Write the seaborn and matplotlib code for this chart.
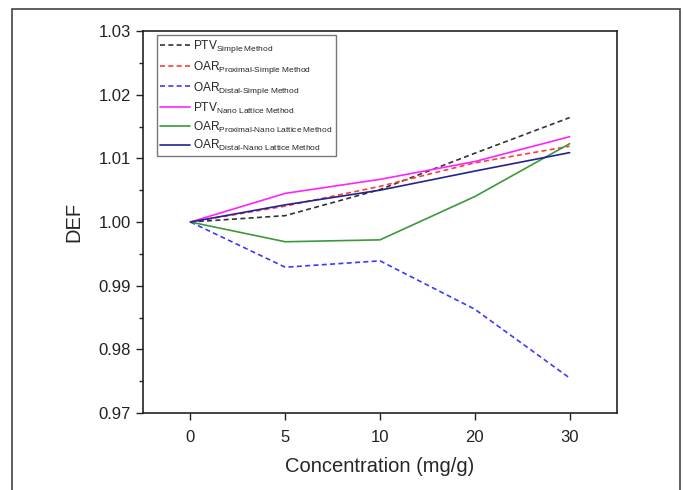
import matplotlib
matplotlib.use("Agg")
import matplotlib.pyplot as plt
import matplotlib.patches as mpatches
from matplotlib.ticker import FormatStrFormatter, MultipleLocator
import pandas as pd
import seaborn as sns

# Concentration levels (shown as evenly spaced categories)
concentrations = ["0", "5", "10", "20", "30"]

ptv_simple = [1.0000, 1.0010, 1.0051, 1.0108, 1.0164]
oar_prox_simple = [1.0000, 1.0025, 1.0056, 1.0093, 1.0119]
oar_dist_simple = [1.0000, 0.9929, 0.9939, 0.9863, 0.9755]
ptv_nano = [1.0000, 1.0045, 1.0067, 1.0095, 1.0134]
oar_prox_nano = [1.0000, 0.9969, 0.9972, 1.0040, 1.0123]
oar_dist_nano = [1.0000, 1.0027, 1.0050, 1.0080, 1.0109]

series_names = [
    r"PTV$_{\mathrm{Simple\ Method}}$",
    r"OAR$_{\mathrm{Proximal\text{-}Simple\ Method}}$",
    r"OAR$_{\mathrm{Distal\text{-}Simple\ Method}}$",
    r"PTV$_{\mathrm{Nano\ Lattice\ Method}}$",
    r"OAR$_{\mathrm{Proximal\text{-}Nano\ Lattice\ Method}}$",
    r"OAR$_{\mathrm{Distal\text{-}Nano\ Lattice\ Method}}$",
]
series_values = [ptv_simple, oar_prox_simple, oar_dist_simple,
                 ptv_nano, oar_prox_nano, oar_dist_nano]

colors = ["#333333", "#ff3b3b", "#3a3aff", "#ff22ff", "#3a9a3a", "#23238f"]
dash_styles = [(3, 2), (3, 2), (3, 2), "", "", ""]

rows = []
for name, vals in zip(series_names, series_values):
    for c, v in zip(concentrations, vals):
        rows.append({"conc": c, "DEF": v, "series": name})
df = pd.DataFrame(rows)

sns.set_theme(style="ticks")
plt.rcParams["font.family"] = ["Liberation Sans", "DejaVu Sans"]
plt.rcParams["mathtext.fontset"] = "custom"
plt.rcParams["mathtext.rm"] = "Liberation Sans"
plt.rcParams["mathtext.it"] = "Liberation Sans"

fig = plt.figure(figsize=(6.83, 4.90), dpi=100)
ax = fig.add_axes([0.2094, 0.1571, 0.694, 0.7796])

sns.lineplot(data=df, x="conc", y="DEF", hue="series", style="series",
             palette=dict(zip(series_names, colors)),
             dashes=dict(zip(series_names, dash_styles)),
             sort=False, linewidth=1.2, ax=ax)

ax.set_xlim(-0.5, 4.5)
ax.set_ylim(0.97, 1.03)
ax.yaxis.set_major_locator(MultipleLocator(0.01))
ax.yaxis.set_minor_locator(MultipleLocator(0.005))
ax.yaxis.set_major_formatter(FormatStrFormatter("%.2f"))
ax.tick_params(axis="both", which="major", direction="out", length=5,
               width=1, labelsize=12, colors="#222222")
ax.tick_params(axis="x", which="major", pad=7)
ax.tick_params(axis="y", which="minor", direction="out", length=3, width=1)
for s in ax.spines.values():
    s.set_visible(True)
    s.set_linewidth(1.2)
    s.set_color("#222222")

ax.set_xlabel("Concentration (mg/g)", fontsize=14.5, labelpad=9)
ax.set_ylabel("DEF", fontsize=14.5, labelpad=11)

handles, labels = ax.get_legend_handles_labels()
leg = ax.legend(handles, labels, loc="upper left",
                bbox_to_anchor=(0.0295, 0.9895), borderaxespad=0,
                fontsize=8.6, frameon=True, fancybox=False, framealpha=1,
                edgecolor="#777777", handlelength=2.5, handletextpad=0.3,
                labelspacing=0.32, borderpad=0.25)
leg.get_frame().set_linewidth(1)

# outer frame around the figure
fig.patches.append(mpatches.Rectangle((12 / 683, -0.05), 668 / 683, 1.05 - 9 / 490,
                                      transform=fig.transFigure, fill=False,
                                      edgecolor="#444444", linewidth=1.2))

fig.savefig("out.png", dpi=100)
